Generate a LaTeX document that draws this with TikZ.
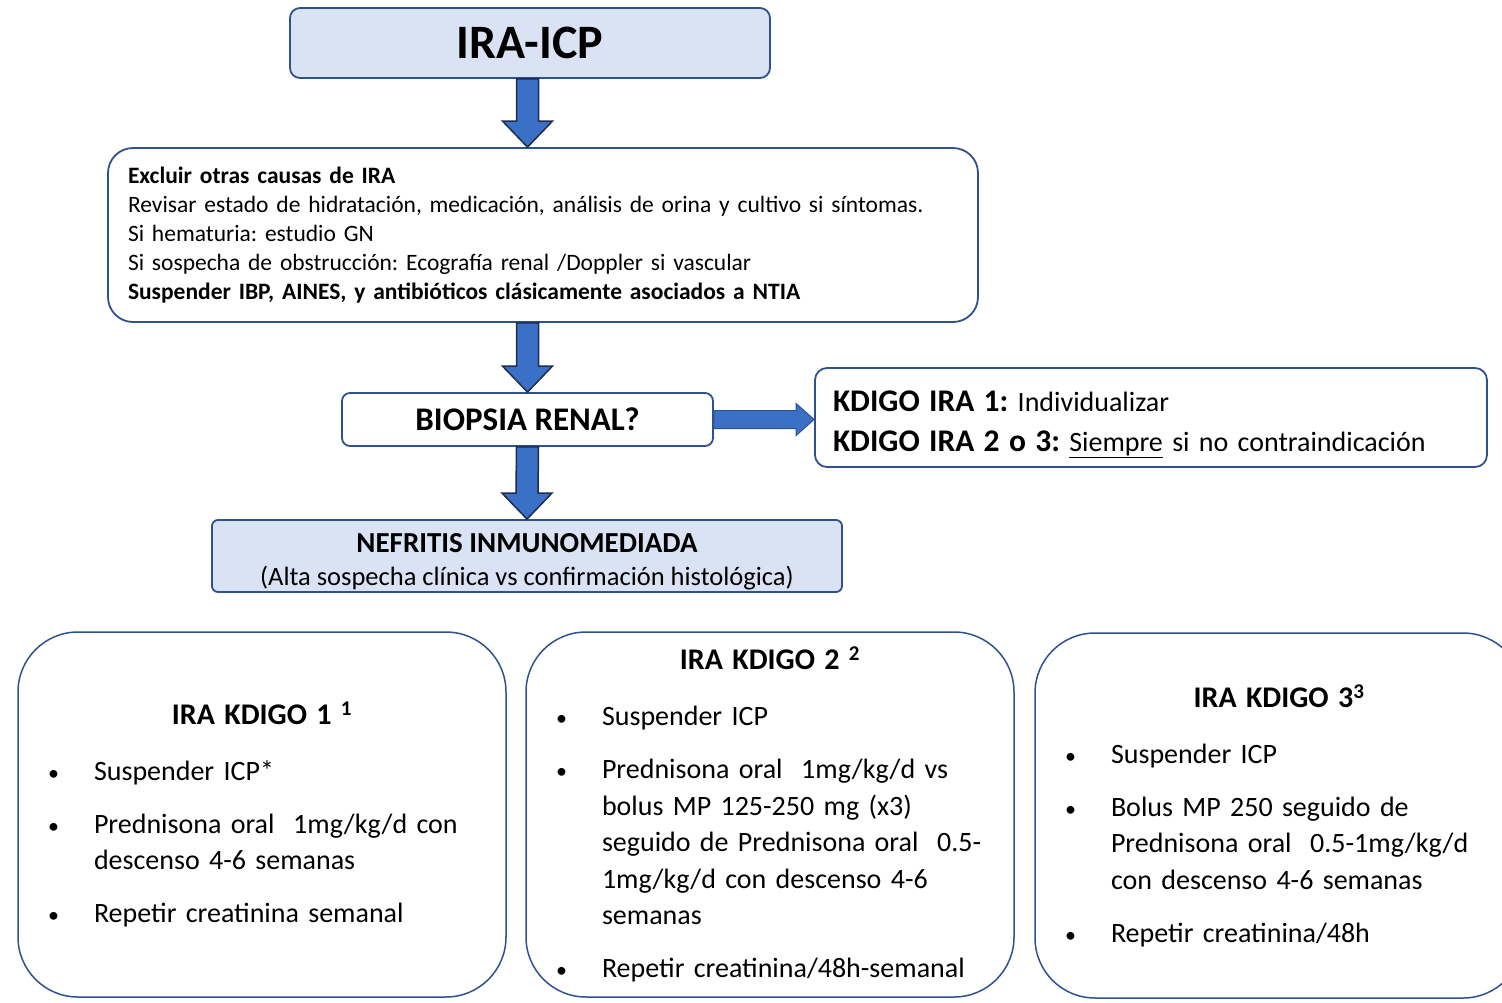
\documentclass[tikz,border=0pt]{standalone}
\usepackage{fontspec}
\setmainfont{Carlito}
\usepackage{tikz}
\usetikzlibrary{positioning}
\usetikzlibrary{calc}
\frenchspacing

\definecolor{boxfill}{HTML}{DAE3F3}
\definecolor{boxline}{HTML}{2F528F}
\definecolor{arrowfill}{HTML}{3A70C6}
\definecolor{arrowline}{HTML}{1F2D4D}

\tikzset{
  whitebox/.style={draw=boxline, line width=1.8pt, fill=white},
  bluebox/.style={whitebox, fill=boxfill},
  blockarrow/.style={draw=arrowline, fill=arrowfill, line width=1.5pt, line join=miter},
  gradebox/.style={whitebox, line width=1.5pt, rounded corners=60pt, minimum width=488pt, minimum height=365pt, text width=428pt, inner xsep=30pt, align=left, font=\fontsize{28}{36.5}\selectfont}
}

\newcommand{\downblock}[2]{\draw[blockarrow] ($#1+(-11,0)$) -- ($#1+(11,0)$) -- ($#2+(11,-26)$) -- ($#2+(25,-26)$) -- #2 -- ($#2+(-25,-26)$) -- ($#2+(-11,-26)$) -- cycle;}
\newcommand{\rightblock}[2]{\draw[blockarrow, draw=boxline, line width=1pt] ($#1+(0,-9)$) -- ($#2+(-18,-9)$) -- ($#2+(-18,-16)$) -- #2 -- ($#2+(-18,16)$) -- ($#2+(-18,9)$) -- ($#1+(0,9)$) -- cycle;}
\newcommand{\gradetitle}[1]{{\centering\bfseries\fontsize{30}{36}\selectfont #1\par}\vspace{3pt}}
\newcommand{\gradeitem}[1]{\par\vspace{16.5pt}\hangindent=46pt\hangafter=1\noindent\makebox[46pt][l]{\fontsize{22}{22}\selectfont\textbullet}#1\par}

\begin{document}
\begin{tikzpicture}[x=1pt, y=-1pt]
\useasboundingbox (0,0) rectangle (1502,1002);
\clip (0,0) rectangle (1502,1002);

\node (ira) [bluebox, rounded corners=10pt, minimum width=480pt, minimum height=70pt, font=\fontsize{48}{52}\selectfont\bfseries] at (530,43) {IRA-ICP};
\node (excl) [whitebox, rounded corners=25pt, minimum height=174pt, text width=830pt, inner xsep=20pt, align=left, font=\fontsize{23.5}{29}\selectfont] at (543,235) {\textbf{Excluir otras causas de IRA}\\
Revisar estado de hidratación, medicación, análisis de orina y cultivo si síntomas.\\
Si hematuria: estudio GN\\
Si sospecha de obstrucción: Ecografía renal /Doppler si vascular\\
\textbf{Suspender IBP, AINES, y antibióticos clásicamente asociados a NTIA}};
\node (biop) [whitebox, rounded corners=8pt, minimum width=371pt, minimum height=53pt, font=\fontsize{33}{36}\selectfont\bfseries] at (527.5,419.5) {BIOPSIA RENAL?};
\node (kdigo) [whitebox, rounded corners=12pt, minimum height=99pt, text width=636pt, inner xsep=18pt, inner ysep=0pt, align=left, font=\fontsize{28}{40}\selectfont] at (1151,417.5) {\rule{0pt}{35pt}{\fontsize{31.5}{40}\selectfont\bfseries KDIGO IRA 1:} Individualizar\\
{\fontsize{31.5}{40}\selectfont\bfseries KDIGO IRA 2 o 3:} \underline{Siempre} si no contraindicación};
\node (nef) [bluebox, rounded corners=6pt, minimum width=630pt, minimum height=72pt, inner ysep=0pt, align=center, font=\fontsize{26.5}{33}\selectfont] at (527,556) {\rule{0pt}{31pt}{\fontsize{29}{33}\selectfont\bfseries NEFRITIS INMUNOMEDIADA}\\
(Alta sospecha clínica vs confirmación histológica)};

\node (grado1) [gradebox] at (262,814.5) {\gradetitle{IRA KDIGO 1 \textsuperscript{1}}
\gradeitem{Suspender ICP*}
\gradeitem{Prednisona oral\ \ 1mg/kg/d con\newline descenso 4-6 semanas}
\gradeitem{Repetir creatinina semanal}};
\node (grado2) [gradebox] at (770,814.5) {\gradetitle{IRA KDIGO 2 \textsuperscript{2}}
\gradeitem{Suspender ICP}
\gradeitem{Prednisona oral\ \ 1mg/kg/d vs\newline bolus MP 125-250 mg (x3)\newline seguido de Prednisona oral\ \ 0.5-\newline 1mg/kg/d con descenso 4-6\newline semanas}
\gradeitem{Repetir creatinina/48h-semanal}};
\node (grado3) [gradebox] at (1279,815.5) {\gradetitle{IRA KDIGO 3\textsuperscript{3}}
\gradeitem{Suspender ICP}
\gradeitem{Bolus MP 250 seguido de\newline Prednisona oral\ \ 0.5-1mg/kg/d\newline con descenso 4-6 semanas}
\gradeitem{Repetir creatinina/48h}};

\downblock{(ira.south -| biop.center)}{(excl.north -| biop.center)}
\downblock{(excl.south -| biop.center)}{(biop.north)}
\downblock{(biop.south)}{(nef.north)}
\rightblock{(biop.east)}{(kdigo.west |- biop.east)}
\end{tikzpicture}
\end{document}
